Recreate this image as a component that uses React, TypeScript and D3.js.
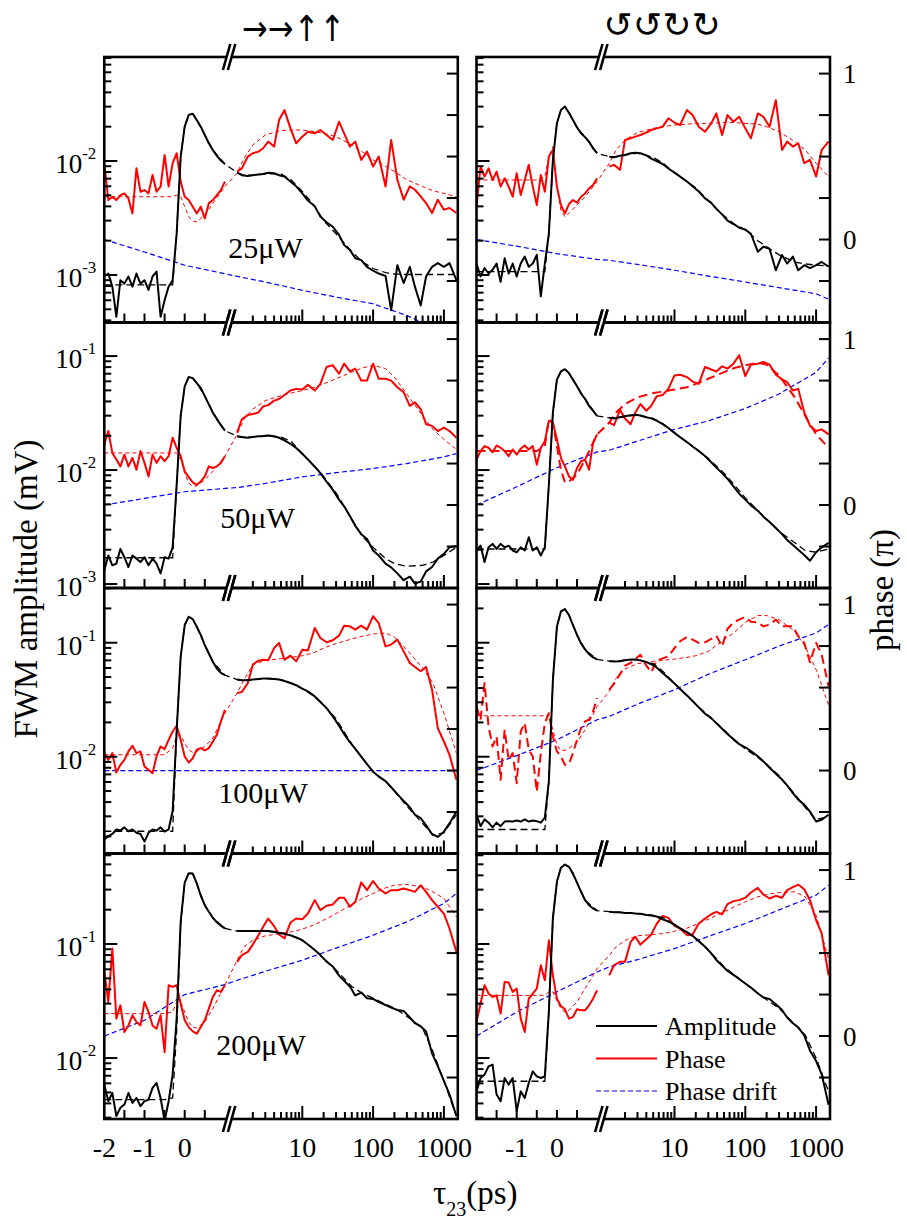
import React from "react";
import * as d3 from "d3";

// ---------- x grids (ps) ----------
const TAU_LIN = [-2, -1.9, -1.8, -1.7, -1.6, -1.5, -1.4, -1.3, -1.2, -1.1, -1, -0.9, -0.8, -0.7, -0.6, -0.5, -0.4, -0.3, -0.2, -0.1, 0, 0.1, 0.2, 0.3, 0.4, 0.5, 0.6, 0.7, 0.8, 0.9, 1.0];
const TAU_LOG = [1.2, 1.4, 1.7, 2, 2.4, 2.8, 3.3, 4, 4.7, 5.6, 6.8, 8.2, 10, 12, 15, 18, 22, 27, 33, 39, 47, 56, 68, 82, 100, 120, 150, 180, 220, 270, 330, 390, 470, 560, 680, 820, 1000, 1200, 1500];
const TAU_FIT = [-2, -1.5, -1, -0.5, -0.3, -0.2, -0.1, 0, 0.1, 0.2, 0.3, 0.5, 0.7, 1.0, 1.2, 1.5, 2, 3, 5, 7, 10, 15, 20, 30, 50, 70, 100, 150, 200, 300, 500, 700, 1000, 1500];
const TAU_DRIFT = [-2, -1, 0, 1, 1.2, 3, 10, 30, 100, 300, 1000, 1500];

const POWERS = ["25μW", "50μW", "100μW", "200μW"];
const TITLE_LIN = "→→↑↑";
const TITLE_CIR = "↺↺↻↻";
const X_LABELS = [-2, -1, 0, 10, 100, 1000];
const PHASE_LABELS = [0, 1];
const LEGEND = ["Amplitude", "Phase", "Phase drift"];

// ---------- 25 µW, linear (left) ----------
const amp25L_lin = [9.7e-4, 1.03e-3, 7.9e-4, 4.3e-4, 9.0e-4, 8.4e-4, 9.7e-4, 7.9e-4, 1.03e-3, 8.4e-4, 9.0e-4, 7.4e-4, 9.7e-4, 1.07e-3, 4.3e-4, 6.0e-4, 7.9e-4, 9.0e-4, 2.3e-3, 0.0109, 0.020, 0.0254, 0.026, 0.0229, 0.020, 0.0169, 0.0143, 0.0125, 0.0111, 0.0101, 0.0094];
const amp25L_log = [7.9e-3, 7.5e-3, 7.4e-3, 7.5e-3, 7.6e-3, 7.7e-3, 7.9e-3, 7.8e-3, 7.5e-3, 7.3e-3, 6.6e-3, 6.0e-3, 5.2e-3, 4.5e-3, 4.0e-3, 3.25e-3, 2.9e-3, 2.65e-3, 2.25e-3, 1.83e-3, 1.66e-3, 1.40e-3, 1.35e-3, 1.18e-3, 1.09e-3, 1.03e-3, 9.8e-4, 4.9e-4, 1.22e-3, 8.5e-4, 1.18e-3, 7.9e-4, 5.4e-4, 9.7e-4, 1.18e-3, 1.27e-3, 1.18e-3, 1.27e-3, 9.0e-4];
const ph25L_lin = [0.46, 0.238, 0.258, 0.238, 0.268, 0.278, 0.248, 0.157, 0.429, 0.288, 0.298, 0.278, 0.389, 0.288, 0.319, 0.51, 0.319, 0.46, 0.52, 0.349, 0.258, 0.238, 0.198, 0.157, 0.198, 0.127, 0.218, 0.238, 0.268, 0.298, 0.349];
const ph25L_log = [0.409, 0.429, 0.50, 0.52, 0.53, 0.55, 0.59, 0.56, 0.72, 0.78, 0.67, 0.58, 0.62, 0.65, 0.64, 0.66, 0.63, 0.60, 0.71, 0.64, 0.56, 0.59, 0.48, 0.53, 0.44, 0.50, 0.32, 0.60, 0.36, 0.24, 0.32, 0.30, 0.26, 0.22, 0.16, 0.24, 0.18, 0.19, 0.16];
const ampFit25L = [8.2e-4, 8.2e-4, 8.2e-4, 8.2e-4, 8.2e-4, 2.3e-3, 0.0109, 0.020, 0.0254, 0.026, 0.0229, 0.0169, 0.0125, 0.0094, 7.9e-3, 7.5e-3, 7.5e-3, 7.7e-3, 7.7e-3, 6.8e-3, 5.4e-3, 4.0e-3, 3.0e-3, 2.3e-3, 1.6e-3, 1.31e-3, 1.14e-3, 1.05e-3, 1.02e-3, 1.01e-3, 1.01e-3, 1.01e-3, 1.01e-3, 1.01e-3];
const phFit25L = [0.258, 0.258, 0.258, 0.258, 0.258, 0.268, 0.258, 0.198, 0.137, 0.111, 0.107, 0.147, 0.218, 0.319, 0.40, 0.49, 0.57, 0.63, 0.657, 0.66, 0.66, 0.65, 0.64, 0.62, 0.57, 0.53, 0.48, 0.44, 0.41, 0.36, 0.32, 0.294, 0.278, 0.258];
const drift25L = [0.0, -0.075, -0.155, -0.206, -0.222, -0.256, -0.306, -0.347, -0.387, -0.458, -0.56, -0.6];

// ---------- 25 µW, circular (right) ----------
const amp25R_lin = [1.26e-3, 9.7e-4, 1.15e-3, 1.03e-3, 1.11e-3, 1.26e-3, 8.7e-4, 1.40e-3, 1.03e-3, 1.26e-3, 9.7e-4, 1.26e-3, 1.45e-3, 1.18e-3, 1.26e-3, 1.50e-3, 6.5e-4, 1.26e-3, 2.3e-3, 0.0102, 0.0214, 0.028, 0.030, 0.0265, 0.0229, 0.0197, 0.0175, 0.0162, 0.0148, 0.0129, 0.0117];
const amp25R_log = [0.0109, 0.0108, 0.0111, 0.0113, 0.0117, 0.0118, 0.0117, 0.0112, 0.0105, 0.0100, 0.0094, 0.0086, 0.0079, 0.0073, 0.0066, 0.0060, 0.0054, 0.0047, 0.0043, 0.0038, 0.0034, 0.0030, 0.0028, 0.0026, 0.0025, 0.0023, 0.0016, 0.00177, 0.0017, 0.0011, 0.0015, 0.00126, 0.00145, 0.0011, 0.00122, 0.00115, 0.00122, 0.0013, 0.00118];
const ph25R_lin = [0.198, 0.44, 0.379, 0.429, 0.359, 0.409, 0.319, 0.369, 0.319, 0.258, 0.399, 0.268, 0.359, 0.45, 0.319, 0.208, 0.389, 0.288, 0.50, 0.54, 0.319, 0.208, 0.157, 0.214, 0.238, 0.222, 0.258, 0.278, 0.308, 0.329, 0.369];
const ph25R_log = [0.44, 0.45, 0.42, 0.60, 0.61, 0.62, 0.63, 0.645, 0.66, 0.67, 0.68, 0.73, 0.705, 0.69, 0.78, 0.75, 0.68, 0.65, 0.70, 0.76, 0.63, 0.75, 0.71, 0.74, 0.67, 0.61, 0.76, 0.74, 0.68, 0.84, 0.54, 0.59, 0.56, 0.58, 0.46, 0.48, 0.38, 0.54, 0.59];
const ampFit25R = [1.07e-3, 1.07e-3, 1.07e-3, 1.07e-3, 1.07e-3, 2.3e-3, 0.0102, 0.0214, 0.028, 0.030, 0.0265, 0.0197, 0.0162, 0.0117, 0.0109, 0.0109, 0.0113, 0.0117, 0.0108, 0.0095, 0.0079, 0.0066, 0.0058, 0.0045, 0.0033, 0.0028, 0.0025, 0.0020, 0.00177, 0.0015, 0.0013, 0.00125, 0.00122, 0.0012];
const phFit25R = [0.359, 0.359, 0.359, 0.359, 0.379, 0.50, 0.56, 0.319, 0.177, 0.137, 0.157, 0.208, 0.258, 0.349, 0.46, 0.54, 0.60, 0.645, 0.67, 0.68, 0.69, 0.695, 0.70, 0.70, 0.705, 0.705, 0.70, 0.695, 0.68, 0.65, 0.59, 0.54, 0.46, 0.38];
const drift25R = [0.0, -0.04, -0.085, -0.12, -0.125, -0.15, -0.185, -0.22, -0.256, -0.29, -0.327, -0.36];

// ---------- 50 µW, linear ----------
const amp50L_lin = [1.32e-3, 1.78e-3, 1.46e-3, 1.51e-3, 2.03e-3, 1.72e-3, 1.41e-3, 1.78e-3, 1.67e-3, 1.56e-3, 1.72e-3, 1.46e-3, 1.67e-3, 1.51e-3, 1.24e-3, 1.72e-3, 1.67e-3, 2.1e-3, 7.4e-3, 0.0299, 0.0543, 0.0655, 0.064, 0.058, 0.0525, 0.0445, 0.0377, 0.0319, 0.028, 0.0248, 0.0222];
const amp50L_log = [0.0198, 0.0195, 0.0192, 0.0195, 0.0198, 0.0199, 0.0201, 0.0198, 0.0192, 0.0182, 0.0170, 0.0156, 0.0139, 0.0124, 0.0107, 0.0094, 0.0079, 0.0067, 0.0055, 0.0048, 0.00395, 0.00324, 0.00274, 0.00248, 0.00197, 0.00178, 0.00151, 0.0014, 0.00124, 0.00108, 0.00116, 0.00101, 0.00105, 0.00129, 0.00141, 0.00167, 0.00184, 0.0021, 0.00216];
const ph50L_lin = [0.365, 0.446, 0.314, 0.274, 0.233, 0.304, 0.233, 0.284, 0.213, 0.325, 0.254, 0.172, 0.304, 0.254, 0.294, 0.264, 0.294, 0.406, 0.345, 0.294, 0.203, 0.168, 0.136, 0.122, 0.142, 0.172, 0.233, 0.223, 0.233, 0.254, 0.294];
const ph50L_log = [0.436, 0.517, 0.542, 0.548, 0.558, 0.594, 0.602, 0.629, 0.639, 0.663, 0.69, 0.70, 0.696, 0.724, 0.69, 0.73, 0.832, 0.842, 0.791, 0.852, 0.805, 0.822, 0.75, 0.75, 0.852, 0.761, 0.761, 0.75, 0.71, 0.68, 0.598, 0.619, 0.578, 0.487, 0.477, 0.446, 0.467, 0.446, 0.406];
const ampFit50L = [1.7e-3, 1.7e-3, 1.7e-3, 1.7e-3, 1.7e-3, 7.4e-3, 0.0299, 0.0543, 0.0655, 0.064, 0.058, 0.0445, 0.0319, 0.0222, 0.0198, 0.0193, 0.0195, 0.0198, 0.0195, 0.0178, 0.0139, 0.0107, 0.0088, 0.0063, 0.0037, 0.00264, 0.0021, 0.00167, 0.00151, 0.00143, 0.00146, 0.00156, 0.00178, 0.0021];
const phFit50L = [0.314, 0.314, 0.314, 0.314, 0.314, 0.314, 0.274, 0.193, 0.132, 0.112, 0.116, 0.152, 0.203, 0.294, 0.426, 0.517, 0.578, 0.629, 0.659, 0.675, 0.69, 0.71, 0.73, 0.761, 0.801, 0.826, 0.842, 0.822, 0.771, 0.669, 0.538, 0.456, 0.396, 0.335];
const drift50L = [0.0, 0.04, 0.08, 0.10, 0.105, 0.13, 0.17, 0.195, 0.22, 0.25, 0.29, 0.31];

// ---------- 50 µW, circular ----------
const amp50R_lin = [1.97e-3, 2.17e-3, 1.56e-3, 2.1e-3, 2.25e-3, 2.03e-3, 2.25e-3, 2.1e-3, 2.17e-3, 1.97e-3, 1.9e-3, 2.1e-3, 1.97e-3, 2.57e-3, 1.97e-3, 2.1e-3, 1.78e-3, 2.1e-3, 7.4e-3, 0.0319, 0.0621, 0.0733, 0.0767, 0.0708, 0.0621, 0.0543, 0.0469, 0.0422, 0.0365, 0.033, 0.0299];
const amp50R_log = [0.0287, 0.0284, 0.029, 0.0297, 0.0303, 0.0305, 0.0301, 0.0291, 0.0284, 0.0271, 0.0253, 0.0234, 0.0212, 0.0194, 0.0176, 0.0161, 0.0147, 0.0133, 0.0117, 0.0105, 0.0094, 0.0084, 0.0072, 0.0062, 0.0055, 0.0049, 0.0044, 0.0039, 0.0035, 0.0031, 0.00274, 0.00243, 0.0022, 0.002, 0.0018, 0.0016, 0.0019, 0.0021, 0.0023];
const ph50R_lin = [0.274, 0.325, 0.355, 0.345, 0.318, 0.359, 0.345, 0.325, 0.294, 0.335, 0.304, 0.339, 0.359, 0.335, 0.355, 0.243, 0.345, 0.385, 0.507, 0.497, 0.396, 0.284, 0.233, 0.172, 0.152, 0.223, 0.264, 0.274, 0.213, 0.375, 0.426];
const ph50R_log = [0.497, 0.481, 0.574, 0.521, 0.487, 0.558, 0.609, 0.568, 0.598, 0.655, 0.663, 0.70, 0.781, 0.785, 0.771, 0.744, 0.73, 0.832, 0.817, 0.805, 0.836, 0.822, 0.852, 0.903, 0.777, 0.846, 0.852, 0.862, 0.846, 0.785, 0.757, 0.74, 0.69, 0.70, 0.558, 0.477, 0.446, 0.456, 0.426];
const ampFit50R = [2.03e-3, 2.03e-3, 2.03e-3, 2.03e-3, 2.03e-3, 7.4e-3, 0.0319, 0.0621, 0.0733, 0.0767, 0.0708, 0.0543, 0.0422, 0.0299, 0.0287, 0.0287, 0.0297, 0.0303, 0.0284, 0.0253, 0.0212, 0.0176, 0.0154, 0.0126, 0.0094, 0.0074, 0.0057, 0.0044, 0.0037, 0.0029, 0.0023, 0.00197, 0.0019, 0.00203];
const phFit50R = [0.325, 0.325, 0.325, 0.325, 0.355, 0.517, 0.497, 0.355, 0.213, 0.136, 0.142, 0.183, 0.274, 0.426, 0.497, 0.558, 0.609, 0.649, 0.675, 0.684, 0.696, 0.71, 0.73, 0.761, 0.801, 0.826, 0.842, 0.858, 0.846, 0.781, 0.649, 0.538, 0.426, 0.345];
const drift50R = [0.0, 0.11, 0.225, 0.32, 0.33, 0.385, 0.456, 0.507, 0.582, 0.669, 0.80, 0.886];

// ---------- 100 µW, linear ----------
const amp100L_lin = [1.88e-3, 2.01e-3, 2.1e-3, 2.3e-3, 2.25e-3, 2.4e-3, 2.22e-3, 2.3e-3, 2.15e-3, 2.1e-3, 1.8e-3, 2.15e-3, 2.3e-3, 2.25e-3, 2.4e-3, 2.2e-3, 2.3e-3, 3.34e-3, 0.0169, 0.0752, 0.143, 0.169, 0.161, 0.138, 0.117, 0.0953, 0.0805, 0.068, 0.0594, 0.0543, 0.0519];
const amp100L_log = [0.0475, 0.0468, 0.0468, 0.0475, 0.048, 0.0485, 0.0485, 0.048, 0.0475, 0.0462, 0.0443, 0.0424, 0.0395, 0.0374, 0.0338, 0.0302, 0.0267, 0.0226, 0.0187, 0.0158, 0.0134, 0.0117, 0.0100, 0.0086, 0.0074, 0.0067, 0.0061, 0.0054, 0.0047, 0.0041, 0.0036, 0.0031, 0.0029, 0.0025, 0.0021, 0.00198, 0.0022, 0.0026, 0.0033];
const ph100L_lin = [0.105, 0.064, 0.105, -0.012, 0.034, 0.064, 0.115, 0.149, 0.105, 0.115, 0.024, 0.004, -0.016, 0.085, 0.145, 0.129, 0.185, 0.235, 0.27, 0.185, 0.085, 0.048, 0.074, 0.125, 0.135, 0.121, 0.135, 0.175, 0.215, 0.296, 0.366];
const ph100L_log = [0.467, 0.473, 0.527, 0.638, 0.662, 0.668, 0.664, 0.738, 0.769, 0.668, 0.692, 0.658, 0.728, 0.724, 0.859, 0.799, 0.773, 0.785, 0.813, 0.873, 0.869, 0.849, 0.873, 0.849, 0.93, 0.889, 0.748, 0.759, 0.789, 0.718, 0.648, 0.624, 0.598, 0.624, 0.487, 0.256, 0.175, 0.095, -0.056];
const ampFit100L = [2.22e-3, 2.22e-3, 2.22e-3, 2.22e-3, 2.22e-3, 0.0169, 0.0752, 0.143, 0.169, 0.161, 0.138, 0.0953, 0.068, 0.0519, 0.0475, 0.0468, 0.0475, 0.0485, 0.0475, 0.0443, 0.0395, 0.0338, 0.0286, 0.0215, 0.0129, 0.0098, 0.0074, 0.0061, 0.0050, 0.0037, 0.0026, 0.00205, 0.00215, 0.0031];
const phFit100L = [0.095, 0.095, 0.095, 0.095, 0.135, 0.205, 0.215, 0.165, 0.125, 0.109, 0.115, 0.145, 0.195, 0.346, 0.467, 0.547, 0.638, 0.664, 0.674, 0.682, 0.692, 0.712, 0.738, 0.765, 0.793, 0.809, 0.823, 0.829, 0.805, 0.728, 0.618, 0.527, 0.346, 0.105];
const drift100L = [0, 0, 0, 0, 0, 0, 0, 0, 0, 0, 0, 0];

// ---------- 100 µW, circular ----------
const amp100R_lin = [3.1e-3, 2.46e-3, 2.82e-3, 2.64e-3, 2.4e-3, 2.64e-3, 2.46e-3, 2.7e-3, 2.72e-3, 2.7e-3, 2.76e-3, 2.7e-3, 2.82e-3, 2.7e-3, 2.76e-3, 2.72e-3, 2.64e-3, 2.92e-3, 6.1e-3, 0.0468, 0.138, 0.188, 0.197, 0.175, 0.143, 0.117, 0.0986, 0.0873, 0.0794, 0.0743, 0.0713];
const amp100R_log = [0.0689, 0.0686, 0.0689, 0.0703, 0.0713, 0.0713, 0.07, 0.0675, 0.0648, 0.0606, 0.0543, 0.0491, 0.0438, 0.0393, 0.0345, 0.0308, 0.0271, 0.0238, 0.0218, 0.0197, 0.0176, 0.0158, 0.0142, 0.0129, 0.0121, 0.0112, 0.0101, 0.0091, 0.008, 0.0071, 0.0063, 0.0056, 0.0048, 0.0042, 0.0038, 0.0033, 0.0027, 0.0028, 0.0031];
const ph100R_lin = [0.386, 0.306, 0.527, 0.266, 0.145, 0.205, -0.056, 0.245, 0.064, 0.105, -0.076, 0.235, 0.286, 0.125, 0.085, -0.127, 0.105, 0.286, 0.346, 0.205, 0.115, 0.085, 0.034, 0.04, 0.105, 0.185, 0.256, 0.296, 0.306, 0.356, 0.437];
const ph100R_log = [0.487, 0.523, 0.581, 0.632, 0.648, 0.672, 0.698, 0.632, 0.592, 0.664, 0.676, 0.688, 0.738, 0.779, 0.805, 0.789, 0.769, 0.773, 0.793, 0.813, 0.748, 0.853, 0.893, 0.909, 0.926, 0.897, 0.893, 0.869, 0.879, 0.909, 0.869, 0.869, 0.869, 0.809, 0.769, 0.652, 0.769, 0.698, 0.507];
const ampFit100R = [2.3e-3, 2.3e-3, 2.3e-3, 2.3e-3, 2.3e-3, 6.1e-3, 0.0468, 0.138, 0.188, 0.197, 0.175, 0.117, 0.0873, 0.0713, 0.0689, 0.0689, 0.0703, 0.0713, 0.0657, 0.0555, 0.0438, 0.0345, 0.0287, 0.023, 0.0172, 0.0141, 0.0117, 0.0099, 0.0086, 0.0068, 0.0047, 0.0036, 0.0028, 0.0030];
const phFit100R = [0.33, 0.33, 0.33, 0.33, 0.33, 0.336, 0.245, 0.155, 0.121, 0.121, 0.135, 0.169, 0.245, 0.386, 0.477, 0.557, 0.612, 0.644, 0.658, 0.664, 0.672, 0.682, 0.692, 0.718, 0.789, 0.833, 0.893, 0.934, 0.934, 0.909, 0.839, 0.748, 0.608, 0.396];
const drift100R = [0.0, 0.09, 0.185, 0.306, 0.326, 0.40, 0.487, 0.58, 0.668, 0.75, 0.829, 0.879];

// ---------- 200 µW, linear ----------
const amp200L_lin = [0.00584, 0.00418, 0.00494, 0.0031, 0.00366, 0.00391, 0.00494, 0.00404, 0.00447, 0.00378, 0.00418, 0.00432, 0.00547, 0.00604, 0.00447, 0.0028, 0.00418, 0.00715, 0.0224, 0.157, 0.346, 0.418, 0.415, 0.34, 0.265, 0.219, 0.192, 0.17, 0.155, 0.145, 0.137];
const amp200L_log = [0.13, 0.13, 0.13, 0.13, 0.13, 0.13, 0.13, 0.128, 0.125, 0.123, 0.119, 0.114, 0.108, 0.099, 0.0886, 0.080, 0.070, 0.0634, 0.0528, 0.0475, 0.0424, 0.0354, 0.0375, 0.0335, 0.033, 0.0309, 0.0292, 0.0277, 0.0264, 0.0259, 0.0227, 0.0202, 0.019, 0.0171, 0.011, 0.0085, 0.0063, 0.0048, 0.0031];
const ph200L_lin = [0.386, 0.205, 0.527, 0.105, 0.185, 0.024, 0.064, 0.125, 0.085, 0.064, 0.205, 0.145, 0.064, 0.044, 0.125, -0.097, 0.306, 0.296, 0.306, 0.195, 0.095, 0.054, 0.028, 0.014, 0.054, 0.095, 0.165, 0.235, 0.276, 0.266, 0.306];
const ph200L_log = [0.447, 0.487, 0.507, 0.551, 0.608, 0.658, 0.708, 0.662, 0.612, 0.588, 0.684, 0.708, 0.704, 0.738, 0.819, 0.759, 0.785, 0.793, 0.833, 0.833, 0.779, 0.809, 0.926, 0.879, 0.934, 0.889, 0.859, 0.879, 0.879, 0.889, 0.879, 0.869, 0.909, 0.869, 0.819, 0.779, 0.738, 0.648, 0.507];
const ampFit200L = [0.00432, 0.00432, 0.00432, 0.00432, 0.00447, 0.0171, 0.147, 0.346, 0.418, 0.415, 0.34, 0.219, 0.17, 0.137, 0.13, 0.13, 0.13, 0.13, 0.125, 0.119, 0.108, 0.0886, 0.075, 0.0593, 0.0424, 0.037, 0.0335, 0.0297, 0.0274, 0.0232, 0.0183, 0.0114, 0.0063, 0.0031];
const phFit200L = [0.135, 0.135, 0.135, 0.135, 0.145, 0.205, 0.205, 0.145, 0.085, 0.054, 0.048, 0.085, 0.165, 0.306, 0.457, 0.537, 0.577, 0.604, 0.618, 0.628, 0.644, 0.672, 0.698, 0.738, 0.793, 0.829, 0.859, 0.893, 0.909, 0.913, 0.899, 0.869, 0.829, 0.718];
const drift200L = [0.0, 0.095, 0.25, 0.31, 0.336, 0.39, 0.457, 0.53, 0.608, 0.688, 0.799, 0.859];

// ---------- 200 µW, circular ----------
const amp200R_lin = [0.0051, 0.00668, 0.00715, 0.00846, 0.00875, 0.00478, 0.00418, 0.00668, 0.00584, 0.00668, 0.00342, 0.0051, 0.00447, 0.00604, 0.00764, 0.0069, 0.00668, 0.0069, 0.0256, 0.168, 0.351, 0.466, 0.498, 0.475, 0.415, 0.346, 0.287, 0.243, 0.219, 0.205, 0.196];
const amp200R_log = [0.192, 0.19, 0.19, 0.187, 0.187, 0.185, 0.184, 0.18, 0.178, 0.174, 0.165, 0.157, 0.148, 0.137, 0.127, 0.118, 0.106, 0.0948, 0.0829, 0.0725, 0.0646, 0.058, 0.0536, 0.0494, 0.045, 0.0415, 0.037, 0.0339, 0.033, 0.0296, 0.0264, 0.0227, 0.0202, 0.0186, 0.0158, 0.0116, 0.0094, 0.0072, 0.0039];
const ph200R_lin = [0.085, 0.195, 0.306, 0.256, 0.235, 0.245, 0.135, 0.326, 0.322, 0.266, 0.286, 0.105, 0.024, 0.225, 0.256, 0.286, 0.427, 0.336, 0.577, 0.366, 0.225, 0.181, 0.161, 0.105, 0.115, 0.161, 0.155, 0.155, 0.185, 0.225, 0.276];
const ph200R_log = [0.366, 0.427, 0.447, 0.447, 0.567, 0.598, 0.551, 0.583, 0.612, 0.676, 0.724, 0.712, 0.664, 0.648, 0.608, 0.612, 0.678, 0.708, 0.734, 0.748, 0.734, 0.795, 0.813, 0.819, 0.833, 0.865, 0.893, 0.853, 0.829, 0.845, 0.833, 0.879, 0.897, 0.913, 0.885, 0.819, 0.698, 0.618, 0.366];
const ampFit200R = [0.00626, 0.00626, 0.00626, 0.00626, 0.00626, 0.0256, 0.168, 0.351, 0.466, 0.498, 0.475, 0.346, 0.243, 0.196, 0.192, 0.19, 0.187, 0.185, 0.178, 0.17, 0.148, 0.126, 0.112, 0.0886, 0.0634, 0.0536, 0.045, 0.037, 0.0324, 0.0274, 0.0196, 0.016, 0.010, 0.0051];
const phFit200R = [0.245, 0.245, 0.245, 0.245, 0.245, 0.266, 0.266, 0.215, 0.165, 0.145, 0.155, 0.205, 0.286, 0.406, 0.487, 0.537, 0.577, 0.604, 0.612, 0.618, 0.632, 0.65, 0.672, 0.704, 0.748, 0.779, 0.809, 0.839, 0.853, 0.865, 0.869, 0.839, 0.728, 0.467];
const drift200R = [0.0, 0.145, 0.266, 0.386, 0.417, 0.46, 0.527, 0.60, 0.678, 0.76, 0.849, 0.909];

// amplitude axis range per row (mV)
const AMP_DOMAINS: [number, number][] = [
  [3.83e-4, 0.0817],
  [9.23e-4, 0.197],
  [1.416e-3, 0.302],
  [2.92e-3, 0.622],
];
const PHASE_DOMAIN: [number, number] = [-0.5, 1.1];

type PanelData = {
  row: number; col: number;
  ampLin: number[]; ampLog: number[]; phLin: number[]; phLog: number[];
  ampFit: number[]; phFit: number[]; drift: number[];
  phaseStyle: "solid" | "dash"; fitStyle: "thin" | "thick";
};

const PANELS: PanelData[] = [
  { row: 0, col: 0, ampLin: amp25L_lin, ampLog: amp25L_log, phLin: ph25L_lin, phLog: ph25L_log, ampFit: ampFit25L, phFit: phFit25L, drift: drift25L, phaseStyle: "solid", fitStyle: "thin" },
  { row: 0, col: 1, ampLin: amp25R_lin, ampLog: amp25R_log, phLin: ph25R_lin, phLog: ph25R_log, ampFit: ampFit25R, phFit: phFit25R, drift: drift25R, phaseStyle: "solid", fitStyle: "thin" },
  { row: 1, col: 0, ampLin: amp50L_lin, ampLog: amp50L_log, phLin: ph50L_lin, phLog: ph50L_log, ampFit: ampFit50L, phFit: phFit50L, drift: drift50L, phaseStyle: "solid", fitStyle: "thin" },
  { row: 1, col: 1, ampLin: amp50R_lin, ampLog: amp50R_log, phLin: ph50R_lin, phLog: ph50R_log, ampFit: ampFit50R, phFit: phFit50R, drift: drift50R, phaseStyle: "solid", fitStyle: "thick" },
  { row: 2, col: 0, ampLin: amp100L_lin, ampLog: amp100L_log, phLin: ph100L_lin, phLog: ph100L_log, ampFit: ampFit100L, phFit: phFit100L, drift: drift100L, phaseStyle: "solid", fitStyle: "thin" },
  { row: 2, col: 1, ampLin: amp100R_lin, ampLog: amp100R_log, phLin: ph100R_lin, phLog: ph100R_log, ampFit: ampFit100R, phFit: phFit100R, drift: drift100R, phaseStyle: "dash", fitStyle: "thin" },
  { row: 3, col: 0, ampLin: amp200L_lin, ampLog: amp200L_log, phLin: ph200L_lin, phLog: ph200L_log, ampFit: ampFit200L, phFit: phFit200L, drift: drift200L, phaseStyle: "solid", fitStyle: "thin" },
  { row: 3, col: 1, ampLin: amp200R_lin, ampLog: amp200R_log, phLin: ph200R_lin, phLog: ph200R_log, ampFit: ampFit200R, phFit: phFit200R, drift: drift200R, phaseStyle: "solid", fitStyle: "thin" },
];

// ---------- layout ----------
const W = 353.5;
const H = 265.5;
const COL_X = [104.3, 476.5];
const ROW_Y = [57, 322.5, 588, 853.5];
const LABEL_POS: [number, number][] = [[124, 201], [116, 205.5], [114, 215], [112, 201.5]];
const BREAK_X = 124.8;
const SERIF = "'Liberation Serif', 'Times New Roman', Times, serif";

const xLin = d3.scaleLinear().domain([-2, 1]).range([0, 120.6]);
const xLog = d3.scaleLog().domain([10, 1000]).range([198, 339.6]);
const xPos = (t: number) => (t <= 1.05 ? xLin(t) : xLog(t));
const yPhase = d3.scaleLinear().domain(PHASE_DOMAIN).range([H, 0]);

const zip = (xs: number[], ys: number[]) => xs.map((x, i) => [x, ys[i]] as [number, number]);

function Panel({ p }: { p: PanelData }) {
  const yAmp = d3.scaleLog().domain(AMP_DOMAINS[p.row]).range([H, 0]);
  const ampLine = d3.line<[number, number]>().x((d) => xPos(d[0])).y((d) => yAmp(d[1]));
  const phLine = d3.line<[number, number]>().x((d) => xPos(d[0])).y((d) => yPhase(d[1]));
  const id = `clip-${p.row}-${p.col}`;
  const [lo, hi] = AMP_DOMAINS[p.row];

  const logTicks: { v: number; major: boolean }[] = [];
  for (let k = Math.floor(Math.log10(lo)); k <= Math.ceil(Math.log10(hi)); k++) {
    for (let m = 1; m <= 9; m++) {
      const v = m * Math.pow(10, k);
      if (v >= lo * 0.995 && v <= hi * 1.001) logTicks.push({ v, major: m === 1 });
    }
  }
  const xTicks: { t: number; len: number }[] = [];
  [-1.5, -1, -0.5, 0, 0.5].forEach((t) => xTicks.push({ t, len: 9 }));
  for (let k = 0; k <= 3; k++) {
    for (let m = 1; m <= 9; m++) {
      const v = m * Math.pow(10, k);
      if (v >= 2 && v <= 1560) xTicks.push({ t: v, len: m === 1 ? 13 : 7 });
    }
  }
  const phaseTicks = d3.range(-0.25, 1.01, 0.25);

  const phDash = p.phaseStyle === "dash" ? "9,5" : undefined;
  const fitW = p.fitStyle === "thick" ? 2 : 1;
  const fitDash = p.fitStyle === "thick" ? "9,5" : "4,3";

  return (
    <g transform={`translate(${COL_X[p.col]},${ROW_Y[p.row]})`}>
      <defs>
        <clipPath id={id}>
          <rect x={0} y={0} width={W} height={H} />
        </clipPath>
      </defs>
      <g clipPath={`url(#${id})`} fill="none">
        <path d={phLine(zip(TAU_DRIFT, p.drift)) || ""} stroke="#0000ff" strokeWidth={1.2} strokeDasharray="5,3" />
        <path d={phLine(zip(TAU_FIT, p.phFit)) || ""} stroke="#ff0000" strokeWidth={fitW} strokeDasharray={fitDash} />
        <path d={phLine(zip(TAU_LIN, p.phLin)) || ""} stroke="#ff0000" strokeWidth={2} strokeDasharray={phDash} strokeLinejoin="round" />
        <path d={phLine(zip(TAU_LOG, p.phLog)) || ""} stroke="#ff0000" strokeWidth={2} strokeDasharray={phDash} strokeLinejoin="round" />
        <path d={ampLine(zip(TAU_LIN, p.ampLin)) || ""} stroke="#000" strokeWidth={2} strokeLinejoin="round" />
        <path d={ampLine(zip(TAU_LOG, p.ampLog)) || ""} stroke="#000" strokeWidth={2} strokeLinejoin="round" />
        <path d={ampLine(zip(TAU_FIT, p.ampFit)) || ""} stroke="#000" strokeWidth={1.3} strokeDasharray="7,4" />
      </g>
      <g stroke="#000" strokeWidth={2}>
        {logTicks.map((tk, i) => (
          <line key={`l${i}`} x1={0} x2={tk.major ? 13 : 7} y1={yAmp(tk.v)} y2={yAmp(tk.v)} />
        ))}
        {phaseTicks.map((v, i) => (
          <line key={`r${i}`} x1={W} x2={W - 11} y1={yPhase(v)} y2={yPhase(v)} />
        ))}
        {xTicks.map((tk, i) => (
          <line key={`b${i}`} x1={xPos(tk.t)} x2={xPos(tk.t)} y1={H} y2={H - tk.len} />
        ))}
      </g>
      <rect x={0} y={0} width={W} height={H} fill="none" stroke="#000" strokeWidth={2.6} />
      {[0, H].map((yy, i) => (
        <g key={`br${i}`}>
          <rect x={BREAK_X - 2.6} y={yy - 2} width={5.2} height={4} fill="#fff" />
          <line x1={BREAK_X - 2.5 - 3.7} y1={yy + 13} x2={BREAK_X - 2.5 + 3.7} y2={yy - 13} stroke="#000" strokeWidth={2.6} />
          <line x1={BREAK_X + 2.5 - 3.7} y1={yy + 13} x2={BREAK_X + 2.5 + 3.7} y2={yy - 13} stroke="#000" strokeWidth={2.6} />
        </g>
      ))}
      {p.col === 0 && (
        <text x={LABEL_POS[p.row][0]} y={LABEL_POS[p.row][1]} fontFamily={SERIF} fontSize={30}>
          {POWERS[p.row]}
        </text>
      )}
      {p.col === 0 &&
        logTicks.filter((t) => t.major).map((tk, i) => (
          <text key={`yl${i}`} x={-8} y={yAmp(tk.v) + 12} textAnchor="end" fontFamily={SERIF} fontSize={27}>
            <tspan>10</tspan>
            <tspan dy={-14} fontSize={17}>{`-${Math.round(-Math.log10(tk.v))}`}</tspan>
          </text>
        ))}
      {p.col === 1 &&
        PHASE_LABELS.map((v) => (
          <text key={`pl${v}`} x={W + 13} y={yPhase(v) + 9.5} fontFamily={SERIF} fontSize={27}>
            {String(v)}
          </text>
        ))}
      {p.row === 3 &&
        X_LABELS.filter((v) => !(p.col === 1 && v === -2)).map((v) => (
          <text key={`xl${v}`} x={xPos(v)} y={H + 38} textAnchor="middle" fontFamily={SERIF} fontSize={28}>
            {String(v)}
          </text>
        ))}
    </g>
  );
}

export default function App() {
  const legendColors = ["#000", "#ff0000", "#5555ff"];
  return (
    <svg width={907} height={1225} style={{ position: "absolute", left: 0, top: 0, background: "#fff" }}>
      <rect x={0} y={0} width={907} height={1225} fill="#fff" />
      {PANELS.map((p) => (
        <Panel key={`${p.row}-${p.col}`} p={p} />
      ))}
      <text x={242} y={41} fontFamily="'DejaVu Sans', sans-serif" fontSize={36} textLength={103} lengthAdjust="spacingAndGlyphs">
        {TITLE_LIN}
      </text>
      <text x={662} y={37} textAnchor="middle" fontFamily="'DejaVu Sans', sans-serif" fontSize={35}>
        {TITLE_CIR}
      </text>
      <text transform="translate(37,589) rotate(-90)" textAnchor="middle" fontFamily={SERIF} fontSize={33}>
        FWM amplitude (mV)
      </text>
      <text transform="translate(893,590) rotate(-90)" textAnchor="middle" fontFamily={SERIF} fontSize={33}>
        phase (π)
      </text>
      <text x={433} y={1204} fontFamily={SERIF} fontSize={33}>
        τ<tspan fontSize={20} dy={12}>23</tspan>
        <tspan dy={-12}>(ps)</tspan>
      </text>
      {LEGEND.map((name, i) => (
        <g key={name}>
          <line x1={596} x2={657} y1={1026 + i * 32.5} y2={1026 + i * 32.5} stroke={legendColors[i]} strokeWidth={i === 2 ? 1.3 : 2} strokeDasharray={i === 2 ? "5,3" : undefined} />
          <text x={665} y={1035 + i * 32.5} fontFamily={SERIF} fontSize={26}>
            {name}
          </text>
        </g>
      ))}
    </svg>
  );
}
